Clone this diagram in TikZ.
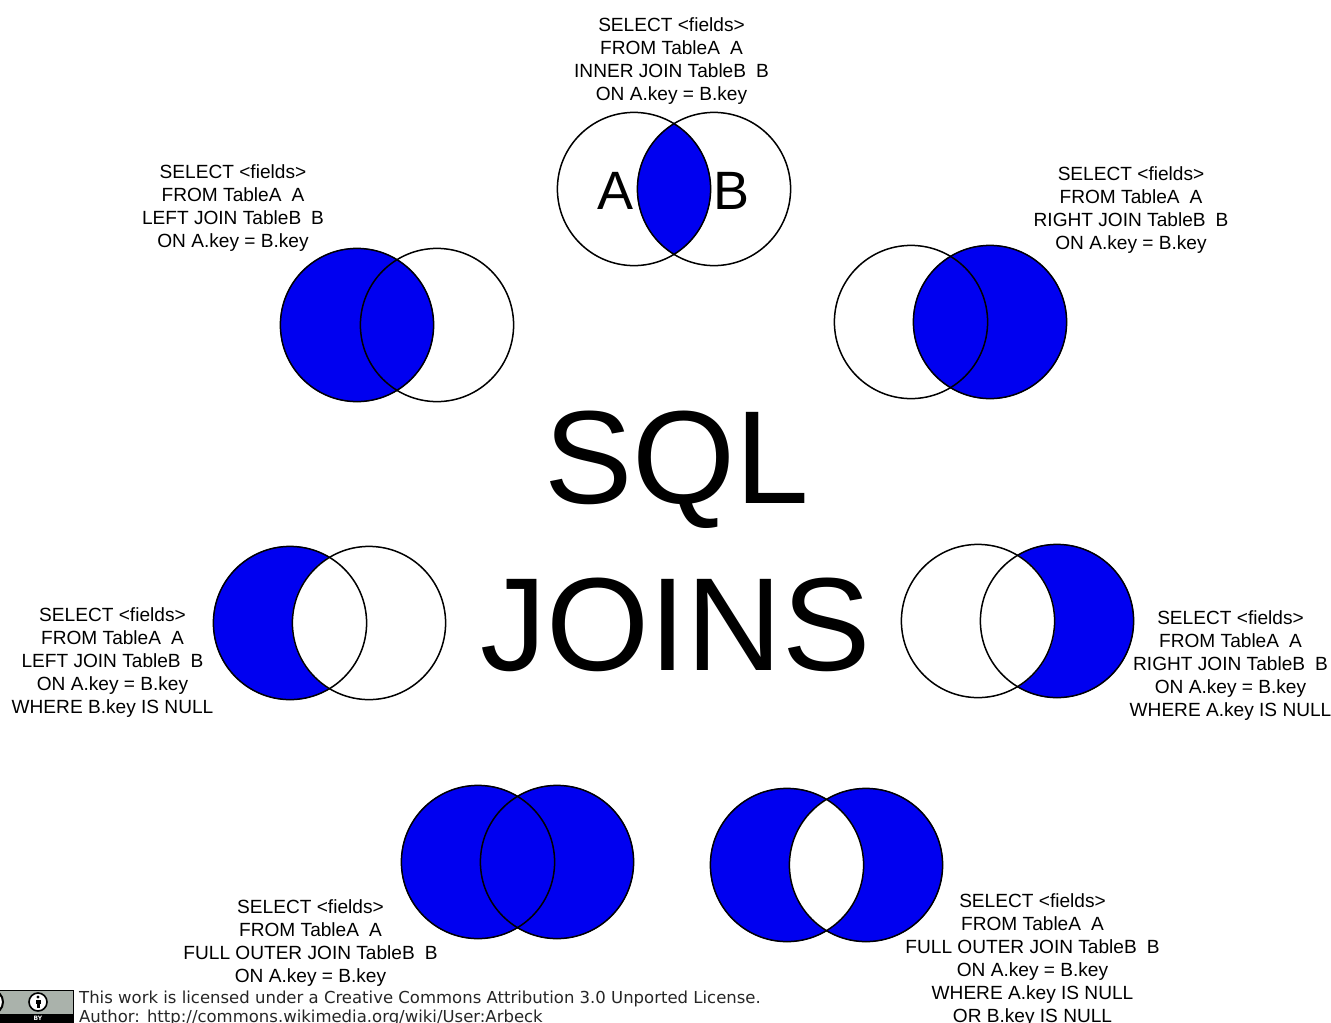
\documentclass[tikz,border=0pt]{standalone}
\usepackage{fontspec}
\setmainfont{Liberation Sans}
\newfontfamily\ccfont{DejaVu Sans}
\definecolor{joinblue}{RGB}{0,0,240}
\definecolor{ccgray}{RGB}{170,178,171}
\newcommand{\gap}{\hspace{10pt}}
\tikzset{
  x=1pt,y=-1pt,
  circ/.style={draw=black,line width=1.5pt},
  sql/.style={align=center,font=\fontsize{19.1}{23}\selectfont,inner sep=0pt,anchor=center,text=black},
  big/.style={inner sep=0pt,font=\fontsize{132.5}{132.5}\selectfont,anchor=center},
  letter/.style={inner sep=0pt,font=\fontsize{54}{54}\selectfont,anchor=center},
  cc/.style={inner sep=0pt,anchor=west,font=\ccfont\fontsize{16.5}{18}\selectfont,text=black!85}
}
% #1 = name, #2,#3 = centre of left circle, #4 = right centre x
\newcommand{\vennoutline}[4]{%
  \node[circle,circ,minimum size=153.2pt,inner sep=0pt,outer sep=0pt] (#1a) at (#2,#3) {};
  \node[circle,circ,minimum size=153.2pt,inner sep=0pt,outer sep=0pt] (#1b) at (#4,#3) {};
}
\begin{document}
\begin{tikzpicture}
\useasboundingbox (0,0) rectangle (1331,1023);
\fill[white] (0,0) rectangle (1331,1023);

% inner join
\begin{scope}
\clip (634,189) circle (77);
\fill[joinblue] (714,189) circle (77);
\end{scope}
\vennoutline{t}{634}{189}{714}
\node[letter] (la) at (615.5,191) {A};
\node[letter] (lb) at (732,191) {B};
\node[sql] (qt) at (671.5,61) {SELECT <fields>\\FROM TableA\gap A\\INNER JOIN TableB\gap B\\ON A.key = B.key};

% left join
\fill[joinblue] (357,325) circle (77);
\vennoutline{l}{357}{325}{437}
\node[sql] (ql) at (233,208) {SELECT <fields>\\FROM TableA\gap A\\LEFT JOIN TableB\gap B\\ON A.key = B.key};

% right join
\fill[joinblue] (990,322) circle (77);
\vennoutline{r}{911}{322}{990}
\node[sql] (qr) at (1131,210) {SELECT <fields>\\FROM TableA\gap A\\RIGHT JOIN TableB\gap B\\ON A.key = B.key};

% left excl
\fill[joinblue] (290,623) circle (77);
\fill[white] (369,623) circle (77);
\vennoutline{le}{290}{623}{369}
\node[sql] (qle) at (112.5,663) {SELECT <fields>\\FROM TableA\gap A\\LEFT JOIN TableB\gap B\\ON A.key = B.key\\WHERE B.key IS NULL};

% right excl
\fill[joinblue] (1057,621) circle (77);
\fill[white] (978,621) circle (77);
\vennoutline{re}{978}{621}{1057}
\node[sql] (qre) at (1230.5,666) {SELECT <fields>\\FROM TableA\gap A\\RIGHT JOIN TableB\gap B\\ON A.key = B.key\\WHERE A.key IS NULL};

% full
\fill[joinblue] (478,862) circle (77) (557,862) circle (77);
\vennoutline{f}{478}{862}{557}
\node[sql] (qf) at (310.5,943.5) {SELECT <fields>\\FROM TableA\gap A\\FULL OUTER JOIN TableB\gap B\\ON A.key = B.key};

% outer excl
\fill[joinblue,even odd rule] (787,865) circle (77) (866,865) circle (77);
\vennoutline{o}{787}{865}{866}
\node[sql] (qo) at (1032.5,960) {SELECT <fields>\\FROM TableA\gap A\\FULL OUTER JOIN TableB\gap B\\ON A.key = B.key\\WHERE A.key IS NULL\\OR B.key IS NULL};

% title
\node[big] (sqltitle) at (677,469.5) {SQL};
\node[big] (joinstitle) at (675.5,624.5) {JOINS};

% licence badge
\begin{scope}
\clip (0,0) rectangle (1331,1023);
\fill[ccgray] (-10,990) rectangle (73,1023);
\draw[black,line width=1pt] (-10,990) rectangle (73,1023);
\fill[black] (-10,1014) rectangle (73,1023);
\node[inner sep=0pt,font=\ccfont\bfseries\fontsize{6}{6}\selectfont,text=white] (by) at (38,1018.5) {BY};
\node[circle,draw=black,fill=white,line width=1.6pt,minimum size=18pt,inner sep=0pt] (byc) at (38,1002) {};
\fill[black] (38,997) circle (1.7);
\fill[black] (35.5,999.5) rectangle (40.5,1004);
\fill[black] (36.5,1004) rectangle (39.5,1007.5);
\node[circle,draw=black,fill=white,line width=2pt,minimum size=24pt,inner sep=0pt] (ccc) at (-9,1002) {};
\node[cc] (lic1) at (79,998.5) {This work is licensed under a Creative Commons Attribution 3.0 Unported License.};
\node[cc] (lic2) at (79,1017.5) {Author: http://commons.wikimedia.org/wiki/User:Arbeck};
\end{scope}
\end{tikzpicture}
\end{document}
